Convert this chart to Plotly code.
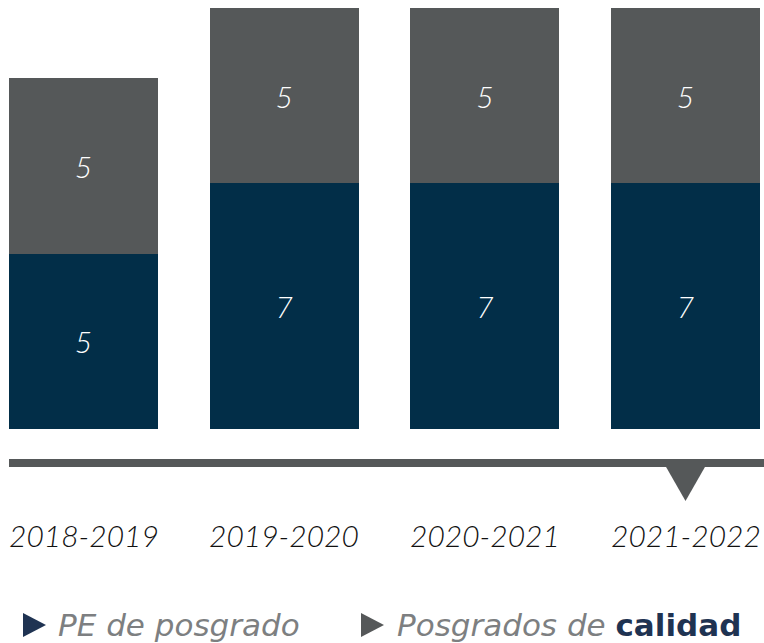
import plotly.graph_objects as go

categories = ["2018-2019", "2019-2020", "2020-2021", "2021-2022"]
pe_posgrado = [5, 7, 7, 7]
posgrados_calidad = [5, 5, 5, 5]

NAVY = "#022e48"
GRAY = "#555859"
TXT_GRAY = "#7d7f81"
LEG_NAVY = "#1f3352"

W, H = 764, 643
x_idx = list(range(len(categories)))
px_per_x = 200.67
x0_px = 83.5
xmin = -x0_px / px_per_x
xmax = xmin + W / px_per_x
base_px = 429
px_per_y = 35.1
ymax = base_px / px_per_y
ymin = -(H - base_px) / px_per_y

def ypx(p):
    return -(p - base_px) / px_per_y

def xpx(p):
    return xmin + p / px_per_x

font_fam = "Lato, 'Open Sans', sans-serif"
leg_fam = "'DejaVu Sans', sans-serif"
lbl_font = dict(family=font_fam, size=30, color="white", style="italic", weight=300)

fig = go.Figure()
fig.add_trace(go.Bar(x=x_idx, y=pe_posgrado, marker=dict(color=NAVY, line=dict(width=0)),
                     width=0.7425, text=pe_posgrado, textposition="inside",
                     insidetextanchor="middle", textfont=lbl_font, hoverinfo="skip",
                     name="PE de posgrado"))
fig.add_trace(go.Bar(x=x_idx, y=posgrados_calidad, marker=dict(color=GRAY, line=dict(width=0)),
                     width=0.7425, text=posgrados_calidad, textposition="inside",
                     insidetextanchor="middle", textfont=lbl_font, hoverinfo="skip",
                     name="Posgrados de calidad"))

shapes = []
# baseline line
shapes.append(dict(type="rect", xref="paper", yref="y", x0=9 / W, x1=1, y0=ypx(467), y1=ypx(459),
                   fillcolor=GRAY, line=dict(width=0)))
# pointer triangle under last bar
cx = x_idx[-1]
hw = 20 / px_per_x
shapes.append(dict(type="path", xref="x", yref="y",
                   path=f"M {cx-hw},{ypx(466)} L {cx+hw},{ypx(466)} L {cx},{ypx(501)} Z",
                   fillcolor=GRAY, line=dict(width=0)))
# legend triangles
def tri(xl, color):
    return dict(type="path", xref="x", yref="y",
                path=f"M {xpx(xl)},{ypx(613)} L {xpx(xl+23)},{ypx(625)} L {xpx(xl)},{ypx(637)} Z",
                fillcolor=color, line=dict(width=0))
shapes.append(tri(23, LEG_NAVY))
shapes.append(tri(361, GRAY))

annotations = []
for i, c in zip(x_idx, categories):
    annotations.append(dict(x=i, y=ypx(535), xref="x", yref="y", text=c, showarrow=False,
                            font=dict(family=font_fam, size=30, color="#111111", style="italic", weight=300),
                            xanchor="center", yanchor="middle"))
annotations.append(dict(x=xpx(56), y=ypx(625), xref="x", yref="y", text="PE de posgrado", showarrow=False,
                        font=dict(family=leg_fam, size=31, color=TXT_GRAY, style="italic", weight=300),
                        xanchor="left", yanchor="middle"))
annotations.append(dict(x=xpx(395), y=ypx(625), xref="x", yref="y",
                        text=f"Posgrados de <span style='color:{LEG_NAVY};font-style:normal;font-weight:bold'>calidad</span>",
                        showarrow=False,
                        font=dict(family=leg_fam, size=31, color=TXT_GRAY, style="italic", weight=300),
                        xanchor="left", yanchor="middle"))

fig.update_layout(
    width=W, height=H, barmode="stack", showlegend=False,
    margin=dict(l=0, r=0, t=0, b=0),
    paper_bgcolor="white", plot_bgcolor="white",
    xaxis=dict(range=[xmin, xmax], visible=False, fixedrange=True),
    yaxis=dict(range=[ymin, ymax], visible=False, fixedrange=True),
    shapes=shapes, annotations=annotations,
    uniformtext=dict(mode=False),
)
fig.write_html("out.html", config=dict(displayModeBar=False),
               post_script="document.body.style.margin='0';document.body.style.overflow='hidden';")
